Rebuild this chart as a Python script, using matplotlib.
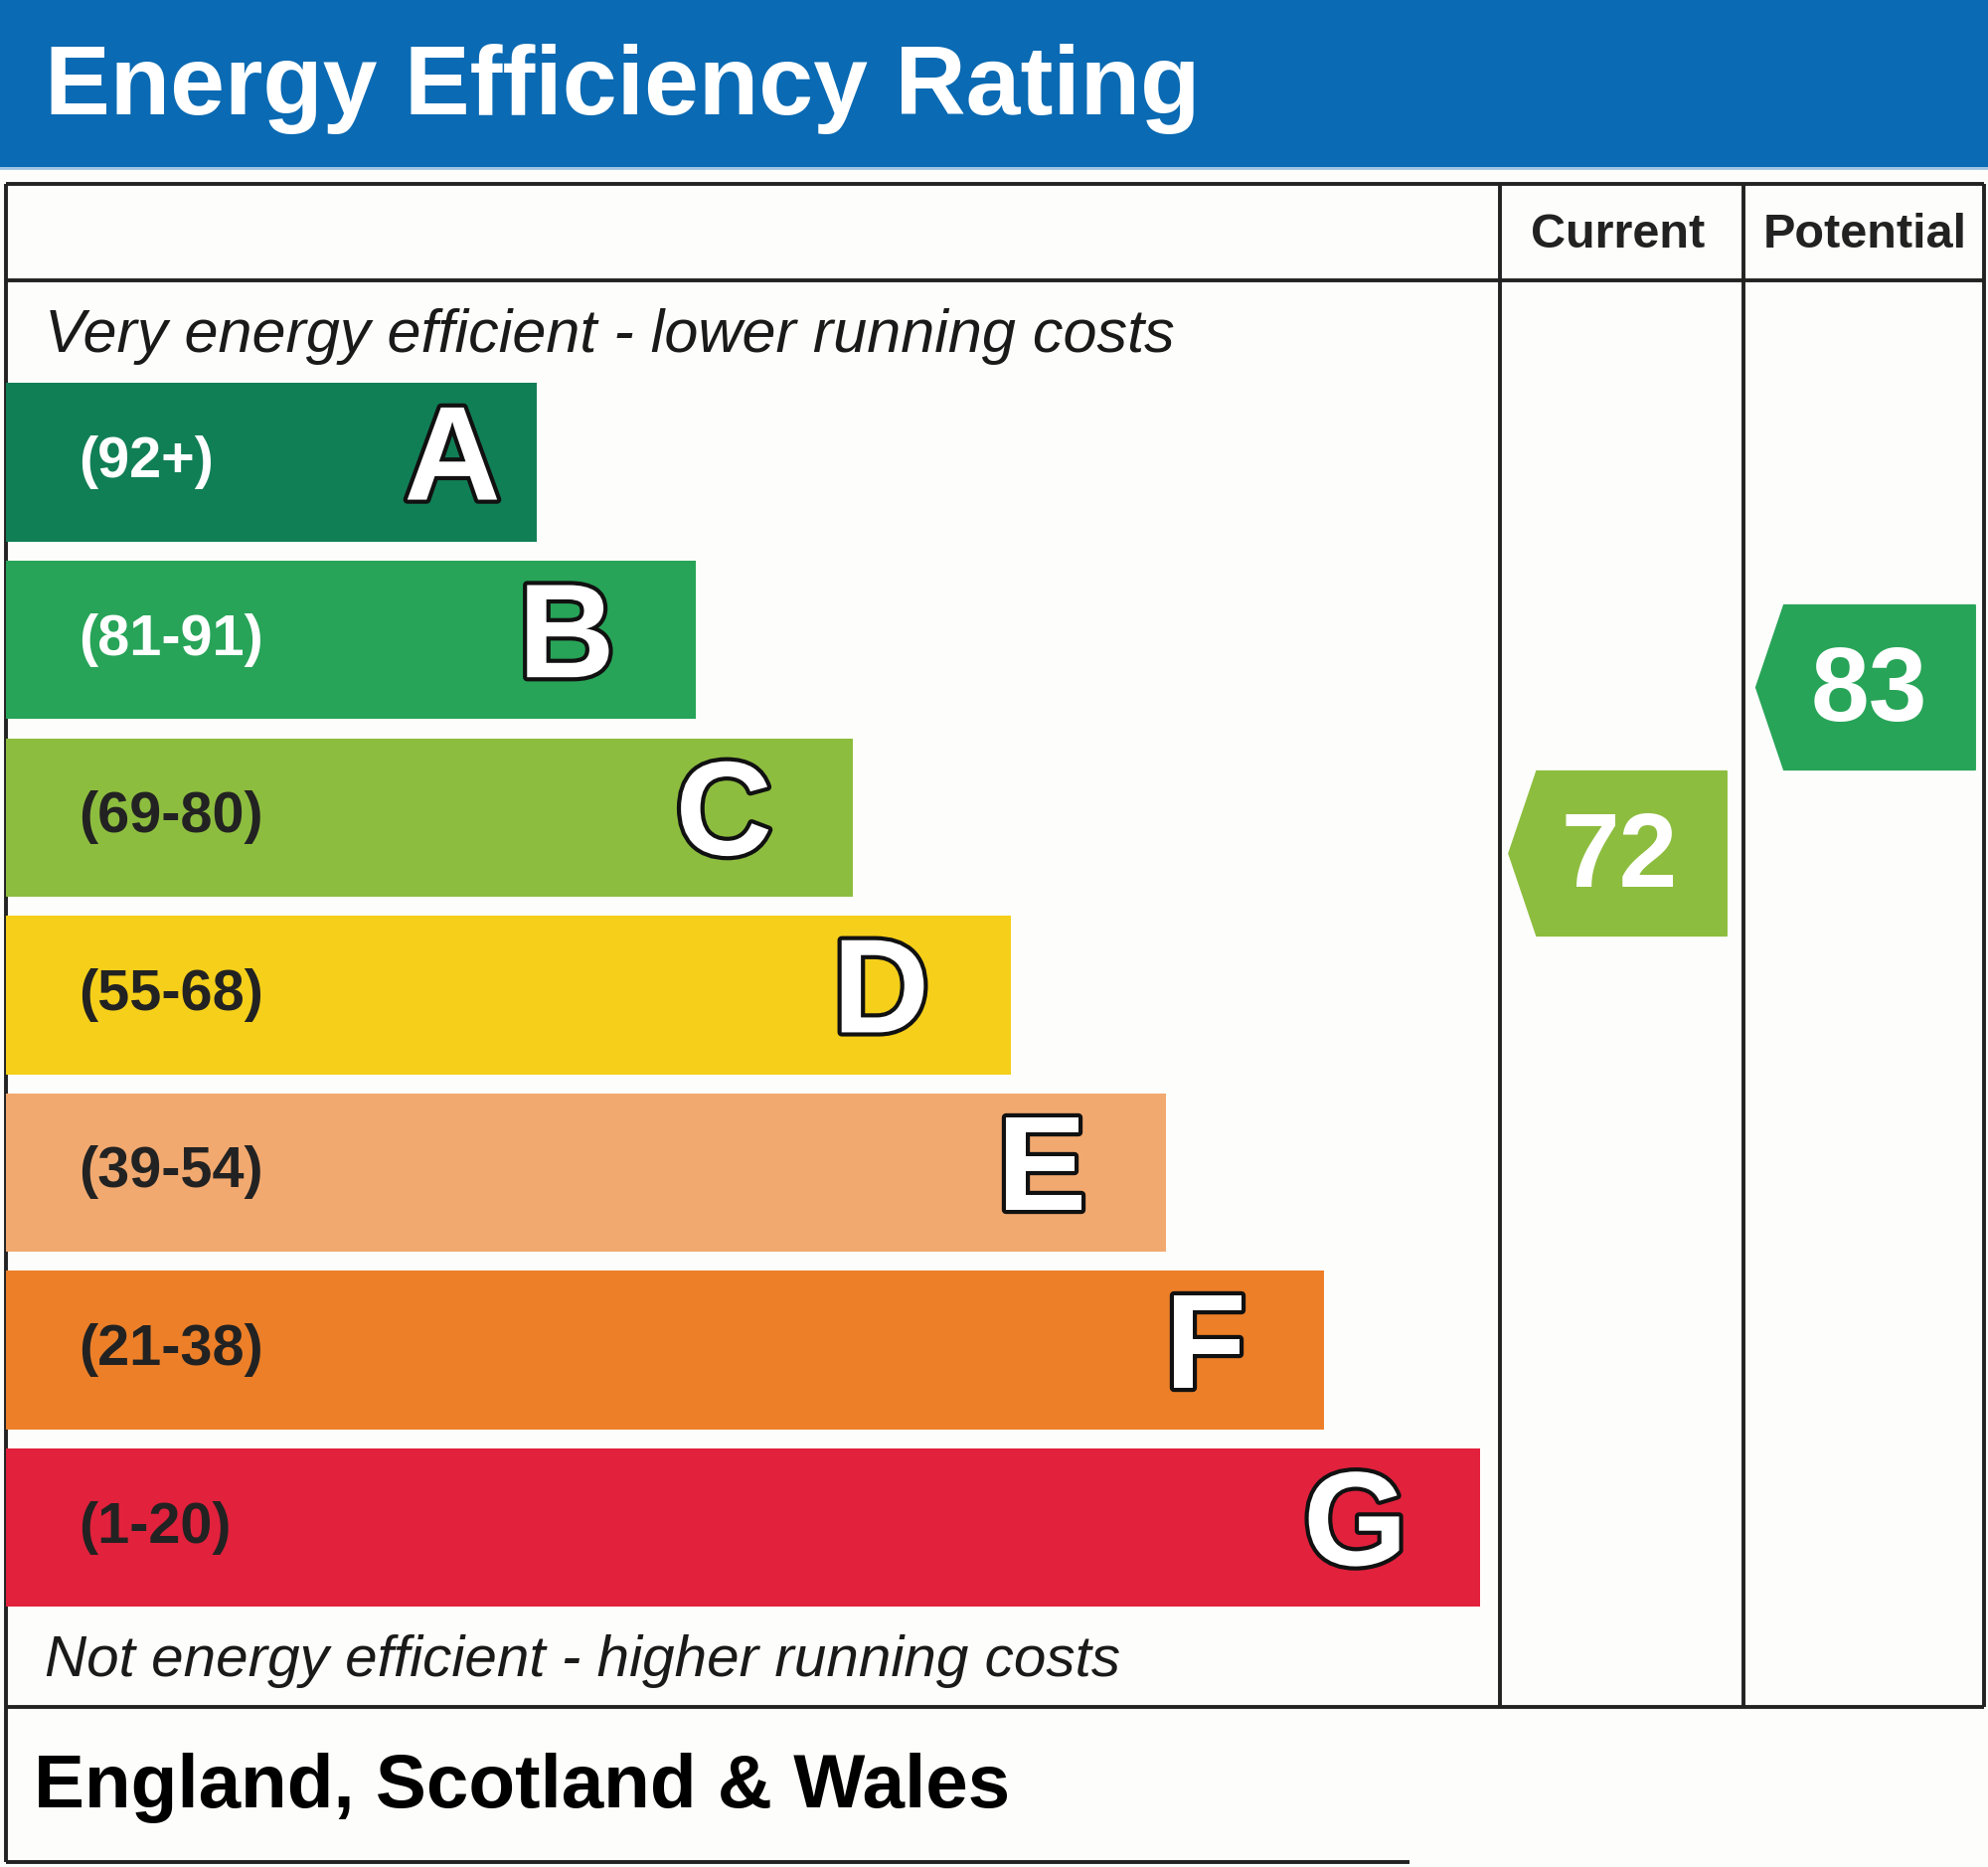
import matplotlib
matplotlib.use("Agg")
import matplotlib.pyplot as plt
import matplotlib.patheffects as pe
from matplotlib.patches import Polygon, Rectangle

# Rating bands (top = most efficient)
bands = ["A", "B", "C", "D", "E", "F", "G"]
band_ranges = ["(92+)", "(81-91)", "(69-80)", "(55-68)", "(39-54)", "(21-38)", "(1-20)"]
band_lo = [92, 81, 69, 55, 39, 21, 1]
band_hi = [100, 91, 80, 68, 54, 38, 20]
band_colors = ["#117f56", "#27a458", "#8dbd3f", "#f5cf19", "#f2a96f", "#ec7f28", "#e2213c"]
range_text_colors = ["white", "white", "#222222", "#222222", "#222222", "#222222", "#222222"]
bar_lengths = [418, 544, 668, 792, 915, 1039, 1162]
letter_pad = [28, 64, 64, 64, 63, 61, 57]

current_rating = 72
potential_rating = 83

title = "Energy Efficiency Rating"
region = "England, Scotland & Wales"

# layout in a 1568 x 1472 canvas (y downwards)
W, H = 1568, 1472
row_top0, row_pitch, row_h = 302, 140, 125
col_cur = (1183, 1375)
col_pot = (1375, 1565)
line_kw = dict(color="#222222", lw=2.8, solid_capstyle="butt")

fig = plt.figure(figsize=(20, 18.78), dpi=100)
fig.patch.set_facecolor("#fdfdfb")
ax = fig.add_axes([0, 0, 1, 1])
ax.set_xlim(0, W)
ax.set_ylim(H, 0)
ax.axis("off")

# header bar
ax.add_patch(Rectangle((0, 0), W, 131, color="#0a6ab3", zorder=1))
ax.plot([0, W], [132.5, 132.5], color="#9cc3e4", lw=2)
ax.text(35, 70, title, color="white", fontsize=71, fontweight="bold",
        family="Liberation Sans", va="center", ha="left")

# table frame
ax.plot([5, 1565], [145, 145], **line_kw)
ax.plot([5, 1565], [221, 221], **line_kw)
ax.plot([5, 1565], [1346, 1346], **line_kw)
ax.plot([5, 5], [145, 1468], **line_kw)
ax.plot([1565, 1565], [145, 1346], **line_kw)
ax.plot([1183, 1183], [145, 1346], **line_kw)
ax.plot([1375, 1375], [145, 1346], **line_kw)
ax.plot([5, 1112], [1468, 1468], **line_kw)

ax.text(1276, 185, "Current", fontsize=35, fontweight="bold",
        family="Liberation Sans", ha="center", va="center", color="#222222")
ax.text(1471, 185, "Potential", fontsize=35, fontweight="bold",
        family="Liberation Sans", ha="center", va="center", color="#222222")

ax.text(35, 265, "Very energy efficient - lower running costs", fontsize=44,
        style="italic", family="Liberation Sans", ha="left", va="center", color="#1a1a1a")
ax.text(35, 1310, "Not energy efficient - higher running costs", fontsize=42,
        style="italic", family="Liberation Sans", ha="left", va="center", color="#1a1a1a")

# band bars
centres = [row_top0 + i * row_pitch + row_h / 2 for i in range(len(bands))]
ax.barh(centres, bar_lengths, left=5, height=row_h, color=band_colors, zorder=2)
outline = [pe.withStroke(linewidth=6, foreground="#111111")]
for i, b in enumerate(bands):
    ax.text(62, centres[i], band_ranges[i], fontsize=41.5, fontweight="bold",
            family="Liberation Sans", color=range_text_colors[i],
            ha="left", va="center", zorder=3)
    ax.text(5 + bar_lengths[i] - letter_pad[i], centres[i] + 2, b, fontsize=97,
            fontweight="bold", family="Liberation Sans", color="white",
            ha="right", va="center", path_effects=outline, zorder=3)


def rating_y(v):
    for i in range(len(bands)):
        if band_lo[i] <= v <= band_hi[i]:
            top = row_top0 + i * row_pitch
            return top + (band_hi[i] - v) / (band_hi[i] - band_lo[i]) * row_h
    return centres[-1]


def band_index(v):
    for i in range(len(bands)):
        if band_lo[i] <= v <= band_hi[i]:
            return i
    return len(bands) - 1


def draw_arrow(v, col, shift):
    yc = rating_y(v)
    x0, x1 = col[0] + 7, col[1] - 7
    h = 130
    notch = 22
    pts = [(x0, yc), (x0 + notch, yc - h / 2), (x1, yc - h / 2),
           (x1, yc + h / 2), (x0 + notch, yc + h / 2)]
    ax.add_patch(Polygon(pts, closed=True, color=band_colors[band_index(v)], zorder=2))
    ax.text((x0 + notch + x1) / 2 + shift, yc + 5, str(v), fontsize=76, fontweight="bold",
            family="Liberation Sans", color="white", ha="center", va="center", zorder=3)


draw_arrow(current_rating, (col_cur[0], col_cur[1] - 6), -10)
draw_arrow(potential_rating, (col_pot[0] + 3, col_pot[1]), -8)

ax.text(27, 1410, region, fontsize=55, fontweight="bold", family="Liberation Sans",
        ha="left", va="center", color="black")

fig.savefig("out.png", dpi=100, facecolor=fig.get_facecolor())
